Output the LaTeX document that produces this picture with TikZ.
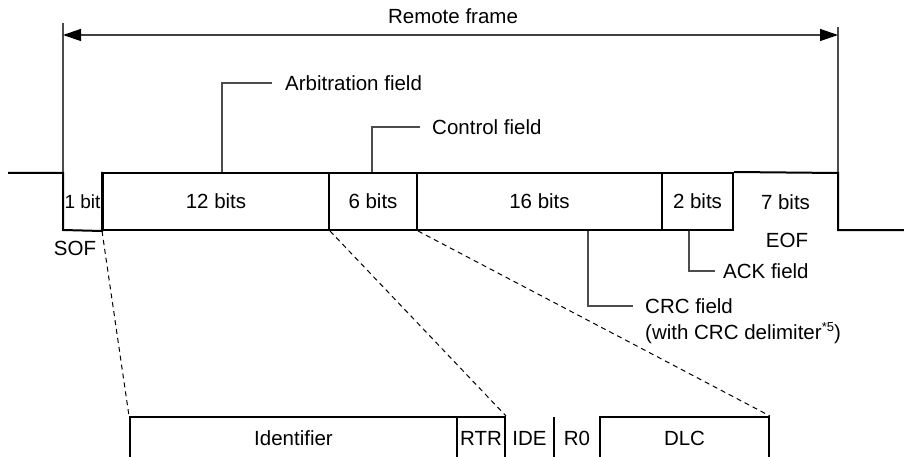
\documentclass[tikz,border=0pt]{standalone}
\usepackage{fontspec}
\setmainfont{Liberation Sans}
\usetikzlibrary{arrows.meta}
\begin{document}
\begin{tikzpicture}[x=1pt,y=-1pt,
  wave/.style={line width=2pt, black},
  lead/.style={line width=1.3pt, black!70},
  zoomline/.style={line width=1pt, dash pattern=on 5pt off 4pt},
  lbl/.style={font=\fontsize{20.5}{24}\selectfont, inner sep=0pt},
  fieldbox/.style={draw, line width=2pt, minimum height=57pt, inner sep=0pt, font=\fontsize{20.5}{24}\selectfont},
  subbox/.style={draw, line width=2pt, minimum height=42pt, inner sep=0pt, font=\fontsize{20.5}{24}\selectfont}
]
\useasboundingbox (0,0) rectangle (904,457);

% frame fields
\node[fieldbox, minimum width=226pt] (arb) at (216,201.5) {12 bits};
\node[fieldbox, minimum width=88pt]  (ctl) at (373,201.5) {6 bits};
\node[fieldbox, minimum width=245pt] (crc) at (539.5,201.5) {16 bits};
\node[fieldbox, minimum width=71pt]  (ack) at (697.5,201.5) {2 bits};
\node[lbl, font=\fontsize{19}{23}\selectfont] (sofbits) at (82.5,202) {1 bit};
\node[lbl] (eofbits) at (785.5,202) {7 bits};

% waveform
\draw[wave] (8,173) -- (63,173) -- (63,230) -- (arb.south west) -- (arb.north west);
\draw[wave] (ack.north east) -- (838,173) -- (838,230) -- (904,230);

% frame markers and arrow
\coordinate (fl) at (63,23);
\coordinate (fr) at (838,27);
\draw[lead] (fl) -- (fl |- arb.north);
\draw[lead] (fr) -- (fr |- arb.north);
\coordinate (al) at (63,35);
\coordinate (ar) at (838,35);
\draw[line width=1.3pt, black!75, {Triangle[length=18pt,width=12pt,color=black]}-{Triangle[length=18pt,width=12pt,color=black]}] (al) -- (ar);
\node[lbl] (rf) at (453,16) {Remote frame};

% labels and leaders
\node[lbl, anchor=west] (arbl) at (285,83) {Arbitration field};
\coordinate (arbx) at (222,83);
\draw[lead] ([xshift=-13pt]arbl.west) -- (arbx) -- (arbx |- arb.north);

\node[lbl, anchor=west] (ctll) at (432,127) {Control field};
\coordinate (ctlx) at (372,127);
\draw[lead] ([xshift=-12pt]ctll.west) -- (ctlx) -- (ctlx |- ctl.north);

\node[lbl, anchor=west] (crcl) at (645,306) {CRC field};
\node[lbl, anchor=west] (crcl2) at (645,333) {(with CRC delimiter\raisebox{0.42em}{\fontsize{13}{13}\selectfont *5})};
\coordinate (crcx) at (588,306);
\draw[lead] (crcx |- crc.south) -- (crcx) -- ([xshift=-12pt]crcl.west);

\node[lbl, anchor=west] (ackl) at (723,271) {ACK field};
\coordinate (ackx) at (689,271);
\draw[lead] (ackx |- ack.south) -- (ackx) -- ([xshift=-8pt]ackl.west);

\node[lbl] (sofl) at (75,248) {SOF};
\node[lbl] (eofl) at (787,240) {EOF};

% arbitration/control detail
\node[subbox, minimum width=327pt] (ident) at (293.5,438) {Identifier};
\node[subbox, minimum width=48pt]  (rtr) at (481,438) {RTR};
\node[lbl] (ide) at (529.5,438) {IDE};
\node[lbl] (rzero) at (577,438) {R0};
\node[subbox, minimum width=169pt] (dlc) at (684.5,438) {DLC};
\coordinate (sep) at (554,417);
\draw[wave] (sep) -- (sep |- rtr.south);

\draw[zoomline] (arb.south west) -- (ident.north west);
\draw[zoomline] (arb.south east) -- (rtr.north east);
\draw[zoomline] (ctl.south east) -- (dlc.north east);
\end{tikzpicture}
\end{document}
